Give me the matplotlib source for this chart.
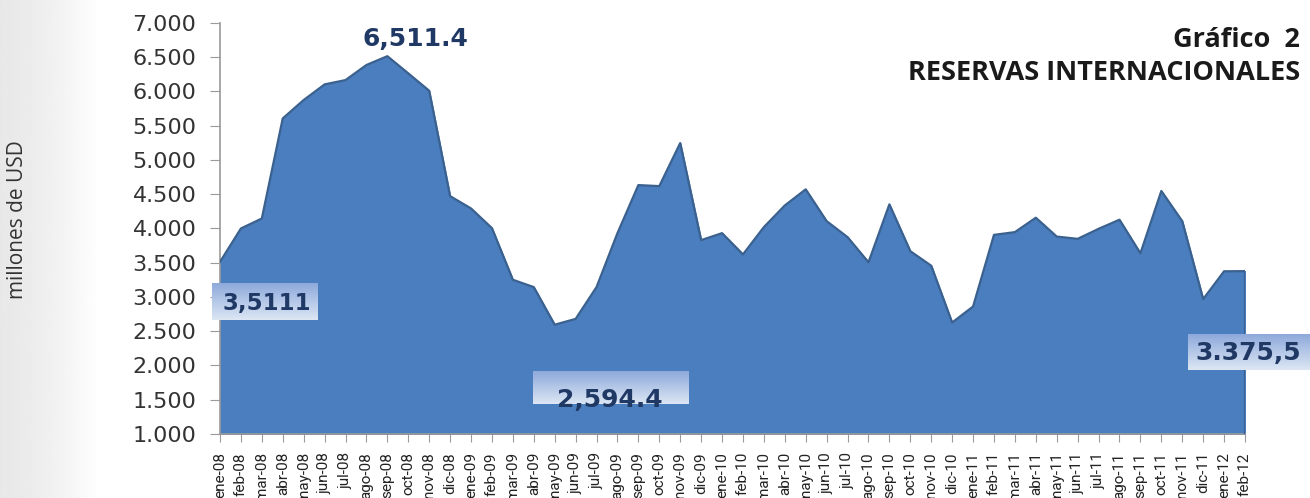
import numpy as np
import matplotlib
matplotlib.use("Agg")
import matplotlib.pyplot as plt
from matplotlib.patches import Rectangle
from matplotlib.colors import LinearSegmentedColormap
from matplotlib.ticker import FuncFormatter

## data
meses = ["ene", "feb", "mar", "abr", "may", "jun", "jul", "ago", "sep", "oct", "nov", "dic"]
etiquetas = [m + "-" + a for a in ["08", "09", "10", "11"] for m in meses] + ["ene-12", "feb-12"]
reservas = [3511.1, 3998, 4144, 5604, 5872, 6100, 6163, 6383, 6511.4, 6261, 6007, 4470,
            4290, 4003, 3250, 3143, 2594.4, 2679, 3143, 3930, 4631, 4616, 5244, 3828,
            3930, 3620, 4018, 4334, 4569, 4105, 3872, 3505, 4350, 3667, 3455, 2626,
            2860, 3905, 3945, 4155, 3880, 3847, 3993, 4126, 3636, 4545, 4105, 2968,
            3374, 3375.5]
x = np.arange(len(reservas))

fig = plt.figure(figsize=(13.1, 4.98), dpi=100)

## gray shade on the left
bg = fig.add_axes([0, 0, 0.075, 1], zorder=-5)
grad = (0.91 + 0.09 * np.linspace(0, 1, 100) ** 1.5)[None, :] * np.ones((50, 1))
bg.imshow(grad, cmap="gray", vmin=0, vmax=1, aspect="auto", extent=[0, 1, 0, 1])
bg.axis("off")

ax = fig.add_axes([220 / 1310, 64 / 498, 1025 / 1310, 411.3 / 498])
ax.fill_between(x, 1000, reservas, color="#4a7ebf", zorder=2)
ax.plot(x, reservas, color="#3b618f", lw=1.6, zorder=3)
ax.plot([x[-1], x[-1]], [1000, reservas[-1]], color="#3b618f", lw=1.6, zorder=3)

ax.set_xticks(x)
ax.set_xticklabels(etiquetas, rotation=90, fontsize=11, family=["Roboto", "DejaVu Sans"])
ax.set_yticks(range(1000, 7001, 500))
ax.yaxis.set_major_formatter(FuncFormatter(lambda v, p: "{:,.0f}".format(v).replace(",", ".")))
for s in ["top", "right"]:
    ax.spines[s].set_visible(False)
for s in ["left", "bottom"]:
    ax.spines[s].set_color("#9a9a9a")
    ax.spines[s].set_linewidth(1.2)
ax.tick_params(axis="y", labelsize=16, colors="#9a9a9a", labelcolor="#333333", length=7, pad=10)
ax.tick_params(axis="x", colors="#9a9a9a", labelcolor="#222222", length=6, pad=7)
ax.set_zorder(1)

cmap_caja = LinearSegmentedColormap.from_list("c", ["#8eaadb", "#dce6f4"])


## value boxes with gradient
def caja(x0, x1, y0, y1, texto, tx, ty, fs, clip=False):
    g = np.linspace(0, 1, 50)[:, None] * np.ones((1, 10))
    ax.imshow(g, cmap=cmap_caja, extent=[x0, x1, y0, y1], aspect="auto", zorder=4, clip_on=False)
    t = ax.text(tx, ty, texto, fontsize=fs, fontweight="bold", color="#1f3864", zorder=5,
                va="center", ha="left", clip_on=False)
    if clip:
        r = Rectangle((x0, y0), x1 - x0, y1 - y0, transform=ax.transData, visible=False)
        ax.add_patch(r)
        t.set_clip_path(r)
        t.set_clip_on(True)


caja(-0.38, 4.68, 2657, 3185, "3,5111", 0.12, 2910, 16.5)
caja(14.96, 22.37, 1434, 1914, "2,594.4", 16.1, 1490, 18)
caja(46.27, 52.1, 1927, 2441, "3.375,5", 46.65, 2180, 18)
ax.set_xlim(0, len(reservas) - 1)
ax.set_ylim(1000, 7000)

ax.text(9.35, 6760, "6,511.4", fontsize=18, fontweight="bold", color="#1f3864", ha="center", va="center")

fig.text(1300 / 1310, 1 - 40 / 498, "Gráfico  2", fontsize=19.5, fontweight="bold", family="Open Sans",
         ha="right", va="center", color="#1a1a1a")
fig.text(1300 / 1310, 1 - 73 / 498, "RESERVAS INTERNACIONALES", fontsize=19.5, fontweight="bold",
         family="Open Sans", ha="right", va="center", color="#1a1a1a")
fig.text(18 / 1310, 1 - 220 / 498, "millones de USD", fontsize=15, family="Open Sans", rotation=90,
         ha="center", va="center", color="#333333")

fig.savefig("out.png", dpi=100)
